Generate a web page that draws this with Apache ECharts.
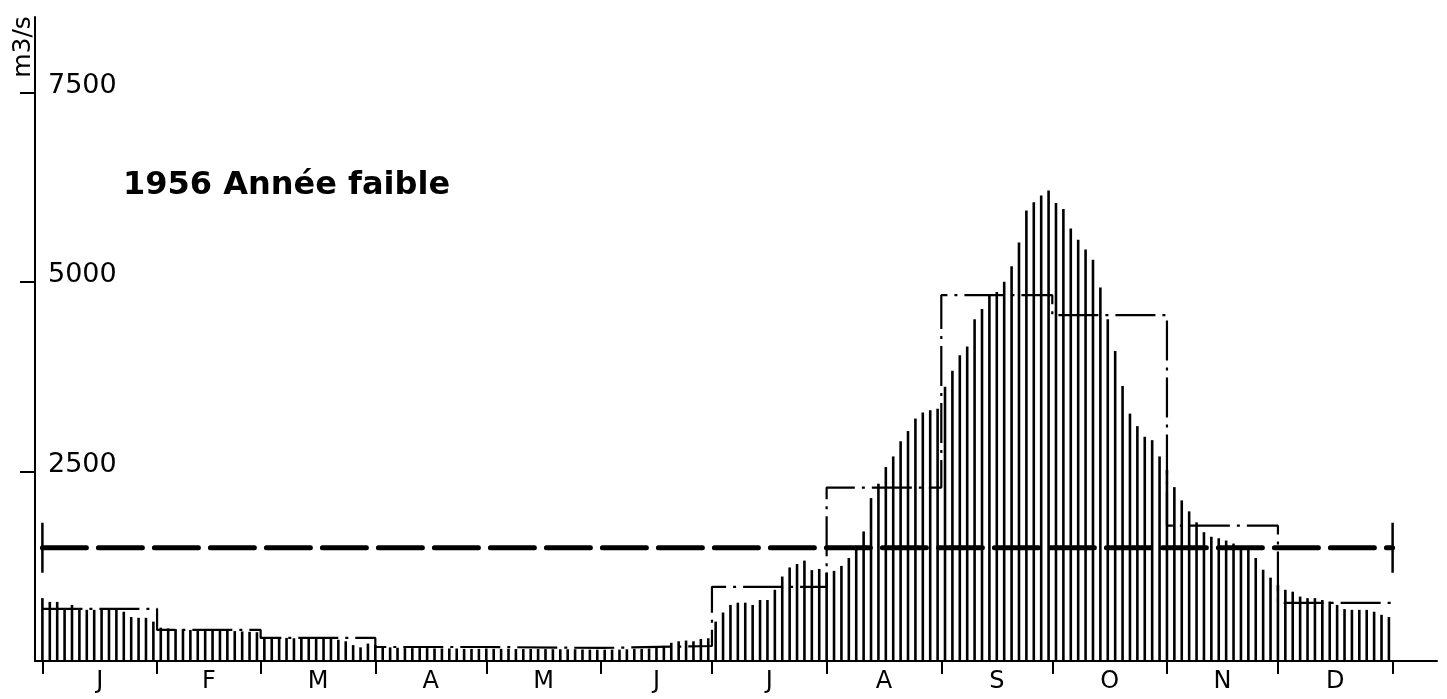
<!DOCTYPE html>
<html>
<head>
<meta charset="utf-8">
<script src="https://cdn.jsdelivr.net/npm/echarts@6/dist/echarts.min.js"></script>
<style>
html,body{margin:0;padding:0;background:#fff;}
#chart{width:1447px;height:699px;}
</style>
</head>
<body>
<div id="chart"></div>
<script>
// ---- data ----
const monthLabels = ['J','F','M','A','M','J','J','A','S','O','N','D'];
const monthStarts = [0,31,59,90,120,151,181,212,243,273,304,334,365];
const yTickValues = [2500,5000,7500];
const dayStep = 2; // one bar every 2 days

const flowJan = [830, 780, 780, 700, 740, 675, 675, 675, 690, 675, 675, 650, 580, 570, 570, 520];
const flowFeb = [440, 430, 420, 420, 410, 410, 405, 400, 400, 400, 395, 390, 385, 380];
const flowMar = [310, 305, 305, 305, 300, 300, 300, 300, 295, 290, 280, 260, 210, 180, 230];
const flowApr = [210, 190, 180, 175, 170, 170, 170, 170, 165, 165, 165, 165, 160, 160, 160];
const flowMay = [165, 160, 160, 160, 158, 158, 158, 158, 158, 156, 155, 155, 155, 152, 150, 150];
const flowJun = [150, 150, 150, 155, 160, 160, 165, 175, 200, 240, 260, 270, 260, 290, 300];
const flowJul = [520, 640, 740, 770, 770, 740, 805, 805, 940, 1115, 1235, 1280, 1325, 1200, 1215];
const flowAug = [1170, 1190, 1255, 1360, 1470, 1710, 2150, 2340, 2560, 2700, 2900, 3035, 3200, 3280, 3310, 3330];
const flowSep = [3620, 3830, 4035, 4150, 4510, 4645, 4820, 4870, 5005, 5210, 5525, 5945, 6055, 6145, 6210];
const flowOct = [6045, 5965, 5710, 5560, 5430, 5295, 4930, 4510, 4090, 3630, 3265, 3100, 2960, 2915, 2700];
const flowNov = [2520, 2295, 2120, 1975, 1830, 1700, 1640, 1620, 1590, 1550, 1510, 1470, 1360, 1205, 1100];
const flowDec = [1005, 940, 915, 850, 830, 830, 805, 785, 740, 685, 675, 675, 675, 650, 610, 580];

const monthlyMean = [688, 410, 304, 185, 172, 198, 979, 2289, 4829, 4565, 1786, 767];
const annualMean = 1495;

// ---- build ----
const flow = [].concat(flowJan, flowFeb, flowMar, flowApr, flowMay, flowJun,
                       flowJul, flowAug, flowSep, flowOct, flowNov, flowDec);
const barData = flow.map((v, i) => [i * dayStep, v]);

const meanData = monthlyMean.map((v, i) => [monthStarts[i], v]);
meanData.push([monthStarts[12], monthlyMean[11]]);

const monthMids = monthLabels.map((m, i) => (monthStarts[i] + monthStarts[i + 1]) / 2);

const chart = echarts.init(document.getElementById('chart'), null, {renderer: 'canvas'});
const FONT = 'DejaVu Sans';

chart.setOption({
  animation: false,
  backgroundColor: '#fff',
  grid: {left: 35, right: 10, top: 17, bottom: 38, containLabel: false},
  xAxis: {
    type: 'value',
    min: -2,
    max: 377,
    axisLine: {show: true, onZero: true, lineStyle: {color: '#000', width: 2}},
    splitLine: {show: false},
    axisTick: {show: true, customValues: monthStarts, length: 13, lineStyle: {color: '#000', width: 2}},
    axisLabel: {
      show: true,
      customValues: monthMids,
      margin: 9,
      fontFamily: FONT,
      fontSize: 24,
      color: '#000',
      formatter: function (v) {
        let best = 0, bd = 1e9;
        monthMids.forEach((m, i) => { const d = Math.abs(m - v); if (d < bd) { bd = d; best = i; } });
        return monthLabels[best];
      }
    }
  },
  yAxis: {
    type: 'value',
    min: 0,
    max: 8500,
    axisLine: {show: true, onZero: false, lineStyle: {color: '#000', width: 2}},
    splitLine: {show: false},
    axisTick: {show: true, customValues: yTickValues, length: 15, lineStyle: {color: '#000', width: 2}},
    axisLabel: {
      show: true,
      inside: true,
      customValues: yTickValues,
      margin: 13,
      verticalAlign: 'bottom',
      align: 'left',
      lineHeight: 14,
      fontFamily: FONT,
      fontSize: 27,
      color: '#000',
      formatter: function (v) { return String(v); }
    }
  },
  graphic: [
    {
      type: 'text', x: 23, y: 47, rotation: Math.PI / 2,
      style: {text: 'm3/s', font: '25px "DejaVu Sans"', fill: '#000', align: 'center', verticalAlign: 'middle'}
    },
    {
      type: 'text', x: 123, y: 186,
      style: {text: '1956 Année faible', font: 'bold 32px "DejaVu Sans"', fill: '#000', align: 'left', verticalAlign: 'middle'}
    }
  ],
  series: [
    {
      type: 'bar',
      data: barData,
      barWidth: 2.6,
      itemStyle: {color: '#000'},
      silent: true
    },
    {
      type: 'line',
      data: meanData,
      step: 'end',
      showSymbol: false,
      lineStyle: {color: '#000', width: 2.2, type: [40, 7, 3, 7]},
      silent: true,
      z: 3
    },
    {
      type: 'line',
      data: [[monthStarts[0], annualMean], [monthStarts[12], annualMean]],
      showSymbol: true,
      symbol: 'rect',
      symbolSize: [2.5, 50],
      itemStyle: {color: '#000'},
      lineStyle: {color: '#000', width: 5, type: [44, 12], cap: 'round'},
      silent: true,
      z: 4
    }
  ]
});
</script>
</body>
</html>
